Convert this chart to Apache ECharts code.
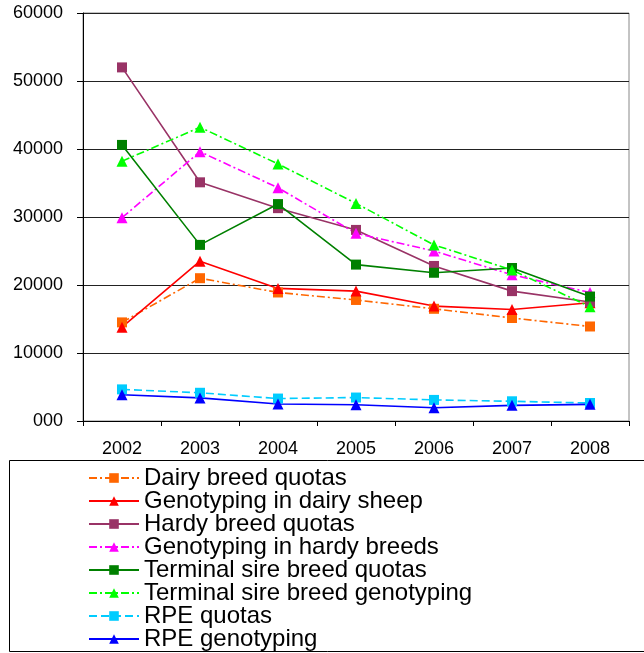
<!DOCTYPE html>
<html>
<head>
<meta charset="utf-8">
<script src="https://cdn.jsdelivr.net/npm/echarts@6/dist/echarts.min.js"></script>
<style>
html,body{margin:0;padding:0;background:#fff;}
#chart{width:644px;height:653px;}
</style>
</head>
<body>
<div id="chart"></div>
<script>
var years = ['2002','2003','2004','2005','2006','2007','2008'];
var dairyQuotas      = [14500, 21000, 18900, 17800, 16500, 15150, 13900];
var dairyGeno        = [13800, 23500, 19500, 19100, 16900, 16400, 17400];
var hardyQuotas      = [52000, 35100, 31300, 28100, 22800, 19100, 17500];
var hardyGeno        = [29900, 39600, 34300, 27600, 25000, 21500, 18900];
var terminalQuotas   = [40600, 25900, 31900, 23000, 21800, 22500, 18300];
var terminalGeno     = [38200, 43200, 37800, 32000, 25900, 22200, 16800];
var rpeQuotas        = [4650, 4150, 3300, 3450, 3100, 2900, 2650];
var rpeGeno          = [3850, 3400, 2500, 2400, 1950, 2300, 2450];
var seriesNames = ['Dairy breed quotas','Genotyping in dairy sheep','Hardy breed quotas','Genotyping in hardy breeds','Terminal sire breed quotas','Terminal sire breed genotyping','RPE quotas','RPE genotyping'];

var font = '"Liberation Sans", Arial, Helvetica, sans-serif';
function mk(name, data, color, symbol, dash, size) {
  return {
    name: name, type: 'line', data: data,
    symbol: symbol, symbolSize: size,
    itemStyle: {color: color},
    lineStyle: {color: color, width: 1.6, type: dash},
    emphasis: {disabled: true},
    animation: false
  };
}
var dd = [8, 3, 2, 3];
var chart = echarts.init(document.getElementById('chart'), null, {renderer: 'canvas'});
chart.setOption({
  backgroundColor: '#fff',
  animation: false,
  textStyle: {fontFamily: font},
  grid: {left: 83, right: 15, top: 13, bottom: 232, show: true, borderColor: '#888', borderWidth: 1},
  xAxis: {
    type: 'category', data: years, boundaryGap: true,
    axisLine: {lineStyle: {color: '#000', width: 1}},
    axisTick: {show: true, length: 5, lineStyle: {color: '#000'}},
    axisLabel: {color: '#000', fontSize: 18, fontFamily: font, margin: 19}
  },
  yAxis: {
    type: 'value', min: 0, max: 60000, interval: 10000,
    axisLine: {show: true, lineStyle: {color: '#000', width: 1}},
    axisTick: {show: true, length: 6, lineStyle: {color: '#000'}},
    axisLabel: {color: '#000', fontSize: 18, fontFamily: font, margin: 20,
      formatter: function (v) { return v === 0 ? '000' : String(v); }},
    splitLine: {show: true, lineStyle: {color: '#222', width: 1}}
  },
  legend: {
    orient: 'vertical', left: 88, top: 466, height: 200, padding: 0, itemGap: -1,
    itemWidth: 50, itemHeight: 12,
    data: seriesNames,
    textStyle: {color: '#000', fontSize: 24, lineHeight: 23, fontFamily: font},
    selectedMode: false
  },
  graphic: [{
    type: 'rect', silent: true, z: -1,
    shape: {x: 9.5, y: 460.5, width: 640, height: 191},
    style: {fill: 'none', stroke: '#000', lineWidth: 1}
  }],
  series: [
    mk(seriesNames[0], dairyQuotas, '#FF6600', 'rect', dd, 10),
    mk(seriesNames[1], dairyGeno, '#FF0000', 'triangle', 'solid', 11),
    mk(seriesNames[2], hardyQuotas, '#993366', 'rect', 'solid', 10),
    mk(seriesNames[3], hardyGeno, '#FF00FF', 'triangle', dd, 11),
    mk(seriesNames[4], terminalQuotas, '#008000', 'rect', 'solid', 10),
    mk(seriesNames[5], terminalGeno, '#00FF00', 'triangle', dd, 11),
    mk(seriesNames[6], rpeQuotas, '#00CCFF', 'rect', [8, 4], 10),
    mk(seriesNames[7], rpeGeno, '#0000FF', 'triangle', 'solid', 11)
  ]
});
</script>
</body>
</html>
